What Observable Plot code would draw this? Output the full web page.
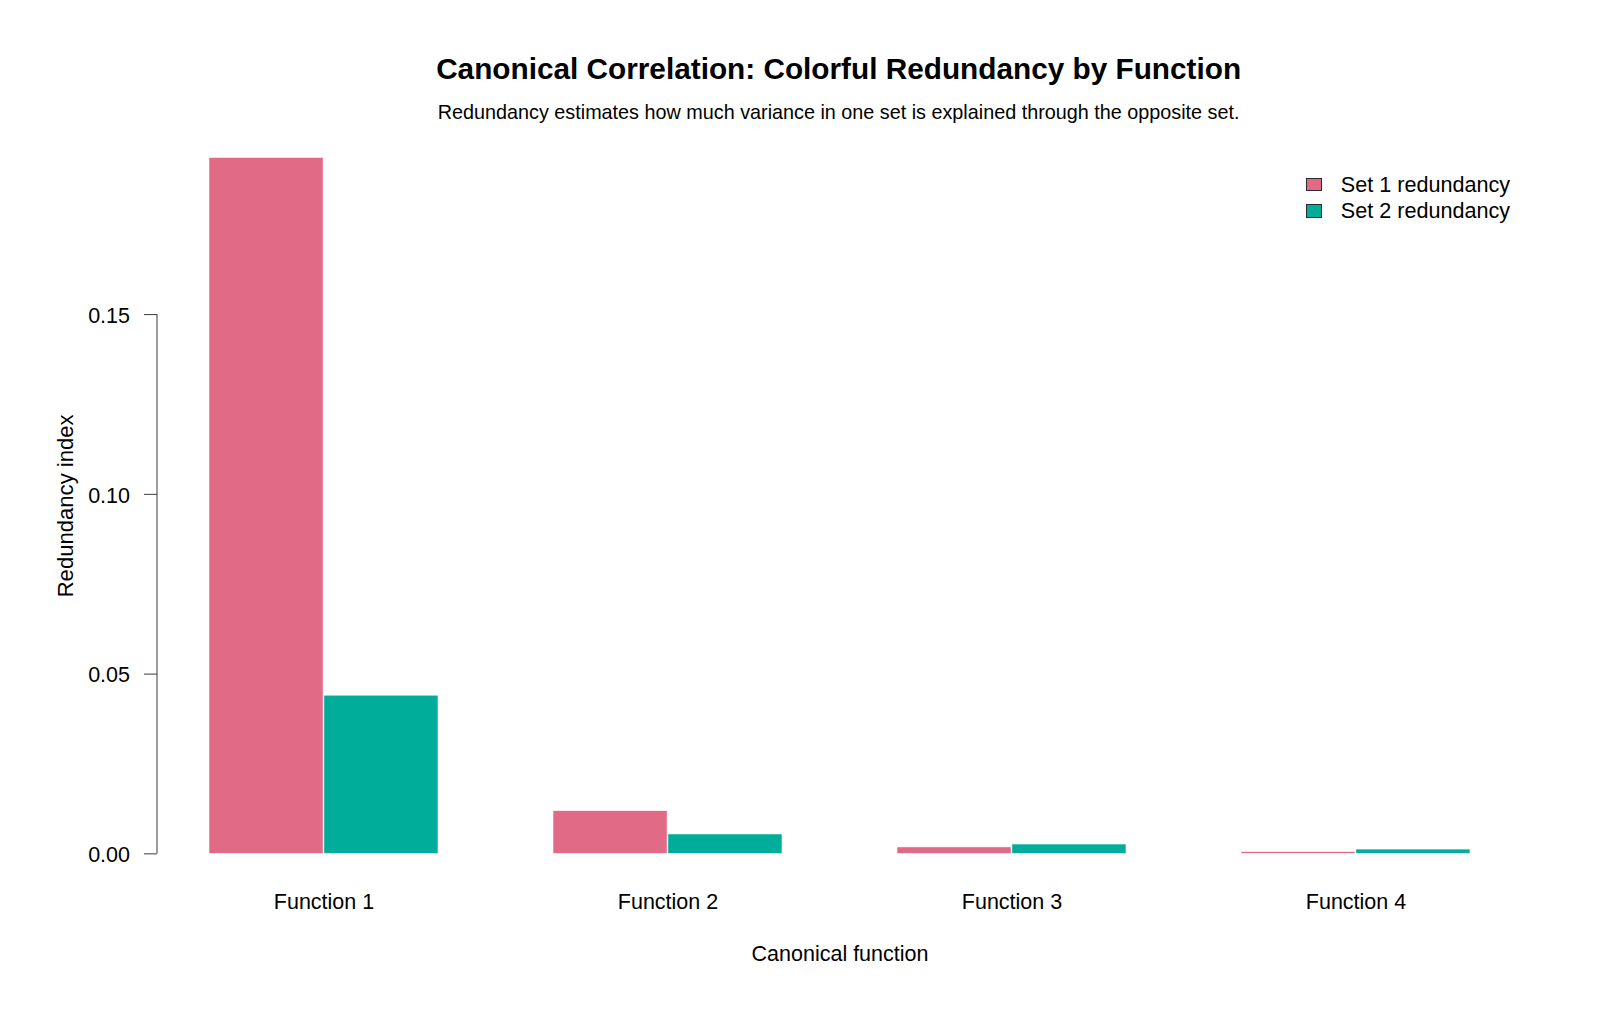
<!DOCTYPE html>
<html>
<head>
<meta charset="utf-8">
<script src="https://cdn.jsdelivr.net/npm/d3@7"></script>
<script src="https://cdn.jsdelivr.net/npm/@observablehq/plot@0.6"></script>
<style>
  html, body { margin: 0; padding: 0; background: #ffffff; }
  #page { position: relative; width: 1600px; height: 1018px; overflow: hidden; font-family: "Liberation Sans", Arial, sans-serif; color: #000; }
  #header { position: relative; width: 1600px; height: 125px; }
  .center { position: absolute; white-space: nowrap; line-height: 1; transform: translateX(-50%); }
  #title { left: 838.6px; top: 53.7px; font-size: 29.75px; font-weight: bold; }
  #subtitle { left: 838.6px; top: 102.5px; font-size: 19.8px; }
  #legend { position: absolute; left: 1305.5px; top: 173.8px; font-size: 21.6px; line-height: 1; }
  .lg-row { position: relative; height: 26.2px; white-space: nowrap; }
  .lg-box { position: absolute; left: 0; top: 4.3px; width: 14.8px; height: 11.3px; border: 1px solid #2b2b2b; }
  .lg-text { position: absolute; left: 35.3px; top: 0; }
</style>
</head>
<body>
<div id="page">
  <div id="header">
    <div id="title" class="center"></div>
    <div id="subtitle" class="center"></div>
  </div>
  <div id="chart"></div>
  <div id="legend"></div>
</div>
<script>
// ---- data ----
const functions = ["Function 1", "Function 2", "Function 3", "Function 4"];
const seriesNames = ["Set 1 redundancy", "Set 2 redundancy"];
const set1Redundancy = [0.1936, 0.0119, 0.0018, 0.0005];
const set2Redundancy = [0.0440, 0.0054, 0.0026, 0.0012];
const seriesColors = ["#E16A86", "#00AD9A"];
const yTicks = [0, 0.05, 0.10, 0.15];
const titleText = "Canonical Correlation: Colorful Redundancy by Function";
const subtitleText = "Redundancy estimates how much variance in one set is explained through the opposite set.";
const xLabel = "Canonical function";
const yLabel = "Redundancy index";

// ---- table ----
const rows = [];
functions.forEach((fn, i) => {
  rows.push({fn, series: seriesNames[0], value: set1Redundancy[i]});
  rows.push({fn, series: seriesNames[1], value: set2Redundancy[i]});
});

document.getElementById("title").textContent = titleText;
document.getElementById("subtitle").textContent = subtitleText;

// ---- layout ----
const W = 1600, H = 893;
const mL = 157.0, mR = 78.0, mT = 4.5, mB = 136.8;
const padInner = 1 / 3, padOuter = 0.44 / 3;
const step = (W - mL - mR) / (functions.length - padInner + 2 * padOuter);
const halfBand = step * (1 - padInner) / 2;

const yMax = d3.max([...set1Redundancy, ...set2Redundancy]);

const chart = Plot.plot({
  width: W,
  height: H,
  marginLeft: mL,
  marginRight: mR,
  marginTop: mT,
  marginBottom: mB,
  style: {fontFamily: "'Liberation Sans', Arial, sans-serif", fontSize: "21.5px", color: "#000", background: "#fff", overflow: "visible"},
  x: {type: "band", domain: functions, paddingInner: padInner, paddingOuter: padOuter, align: 0.5},
  y: {domain: [-0.04 * yMax, 1.04 * yMax]},
  marks: [
    Plot.barY(rows.filter(d => d.series === seriesNames[0]), {x: "fn", y: "value", fill: seriesColors[0], insetRight: halfBand, stroke: "#fff", strokeWidth: 0.6}),
    Plot.barY(rows.filter(d => d.series === seriesNames[1]), {x: "fn", y: "value", fill: seriesColors[1], insetLeft: halfBand, stroke: "#fff", strokeWidth: 0.6}),
    // tick marks only
    Plot.axisY({ticks: yTicks, tickSize: 13, stroke: "#3a3a3a", fill: "none", label: null}),
    // tick labels only
    Plot.axisY({ticks: yTicks, tickFormat: d3.format(".2f"), tickSize: 0, tickPadding: 27.5, dy: 1.5, stroke: "none", fill: "#000", label: null}),
    // axis title
    Plot.axisY({ticks: [], tickSize: 0, stroke: "none", fill: "#000", fontSize: 22.1, dy: 2.6,
      label: yLabel, labelAnchor: "center", labelOffset: 100.5, labelArrow: "none"}),
    Plot.axisX({tickSize: 0, tickPadding: 12.2, fill: "#000",
      label: xLabel, labelAnchor: "center", labelOffset: 78.9, labelArrow: "none"})
  ]
});
document.getElementById("chart").appendChild(chart);

// y axis line from 0 to the top tick, via Plot's own scales
const ys = chart.scale("y"), xs = chart.scale("x");
d3.select(chart).append("line")
  .attr("x1", xs.range[0]).attr("x2", xs.range[0])
  .attr("y1", ys.apply(yTicks[0])).attr("y2", ys.apply(yTicks[yTicks.length - 1]))
  .attr("stroke", "#3a3a3a").attr("stroke-width", 1);

// legend
const legend = d3.select("#legend");
seriesNames.forEach((name, i) => {
  const row = legend.append("div").attr("class", "lg-row");
  row.append("div").attr("class", "lg-box").style("background", seriesColors[i]);
  row.append("div").attr("class", "lg-text").text(name);
});
</script>
</body>
</html>
